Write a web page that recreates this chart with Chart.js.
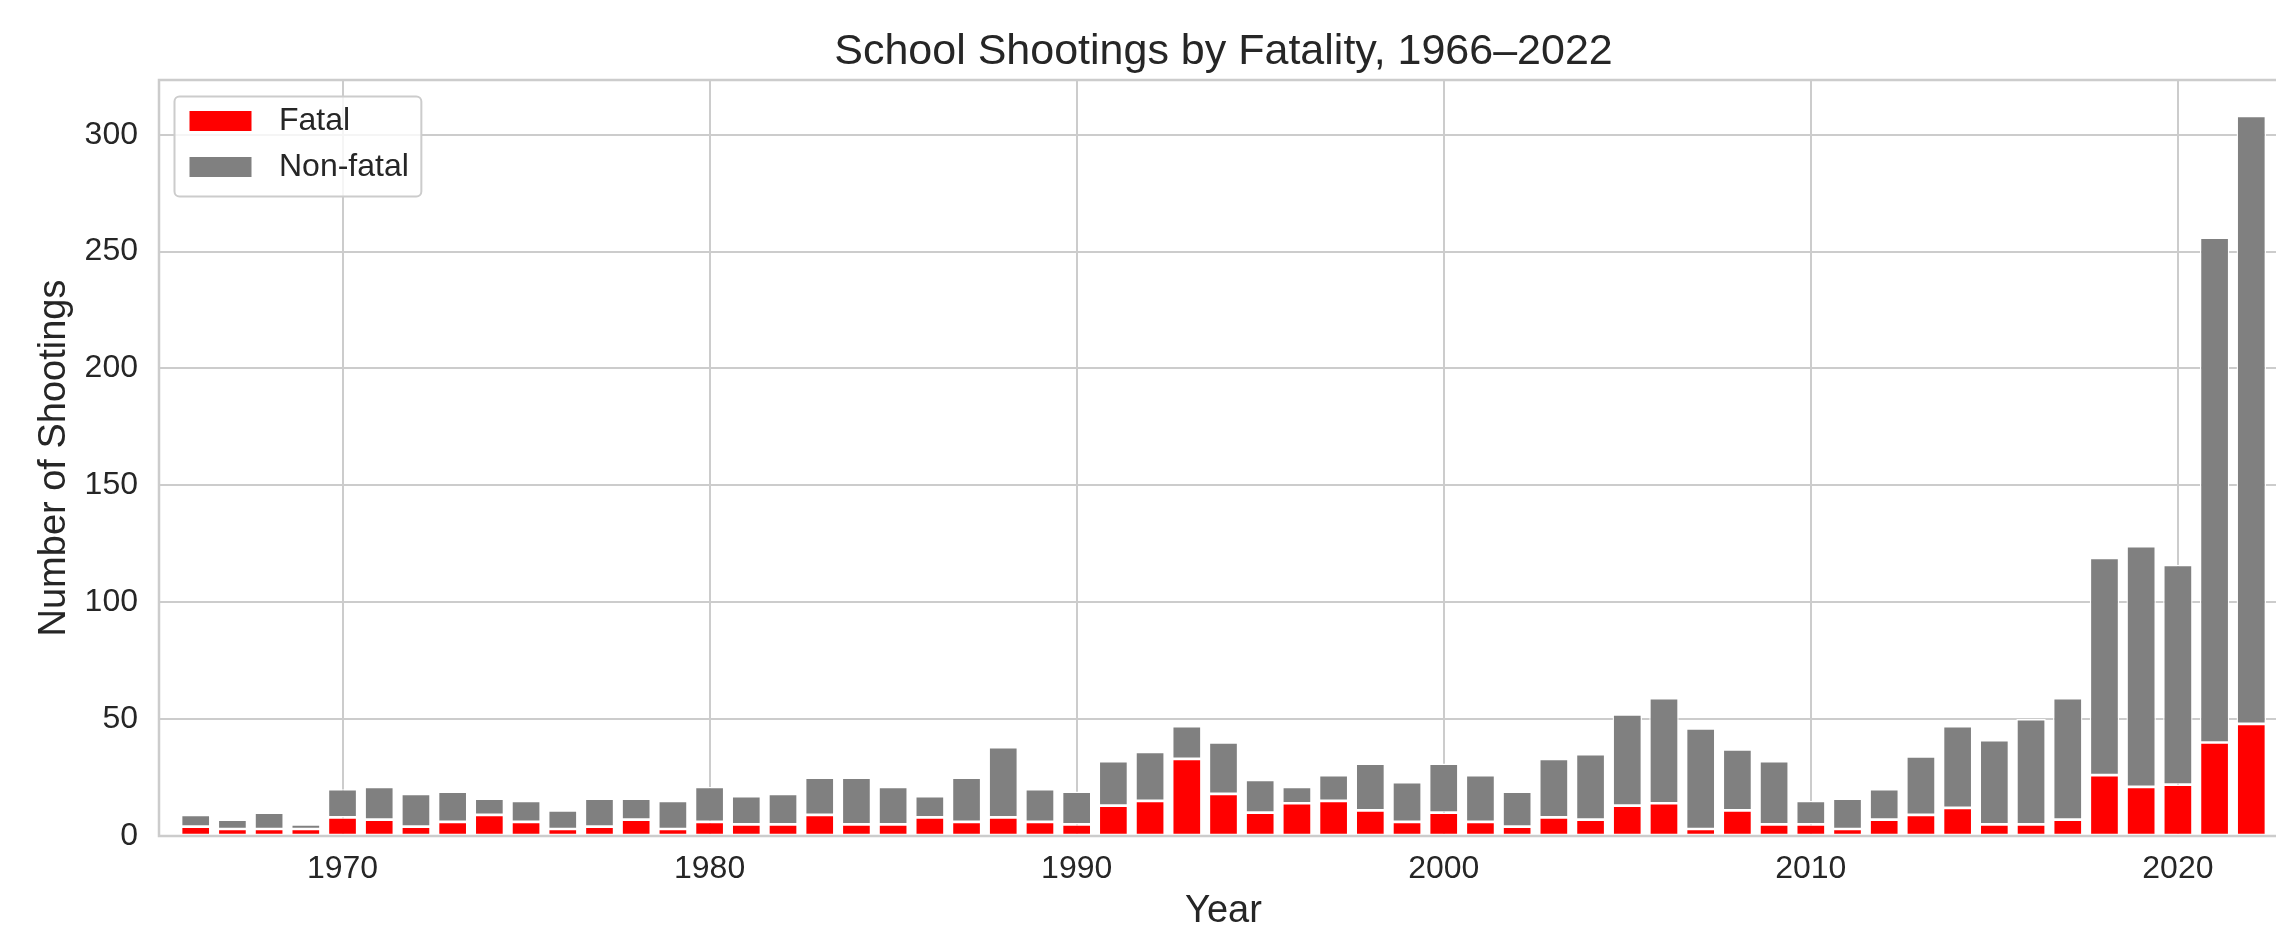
<!DOCTYPE html>
<html>
<head>
<meta charset="utf-8">
<script src="https://cdn.jsdelivr.net/npm/chart.js@4.4.1/dist/chart.umd.min.js"></script>
<style>
  html, body { margin: 0; padding: 0; background: #fff; overflow: hidden; }
  #wrap { width: 2300px; height: 933px; }
</style>
</head>
<body>
<div id="wrap"><canvas id="chart" width="2300" height="933"></canvas></div>
<script>
// --- data ---
const years = [
  1966, 1967, 1968, 1969, 1970, 1971, 1972, 1973, 1974, 1975,
  1976, 1977, 1978, 1979, 1980, 1981, 1982, 1983, 1984, 1985,
  1986, 1987, 1988, 1989, 1990, 1991, 1992, 1993, 1994, 1995,
  1996, 1997, 1998, 1999, 2000, 2001, 2002, 2003, 2004, 2005,
  2006, 2007, 2008, 2009, 2010, 2011, 2012, 2013, 2014, 2015,
  2016, 2017, 2018, 2019, 2020, 2021, 2022
];
const fatal = [
  4, 3, 3, 3, 8, 7, 4, 6, 9, 6,
  3, 4, 7, 3, 6, 5, 5, 9, 5, 5,
  8, 6, 8, 6, 5, 13, 15, 33, 18, 10,
  14, 15, 11, 6, 10, 6, 4, 8, 7, 13,
  14, 3, 11, 5, 5, 3, 7, 9, 12, 5,
  5, 7, 26, 21, 22, 40, 48
];
const nonFatal = [
  5, 4, 7, 2, 12, 14, 14, 13, 7, 9,
  8, 12, 9, 12, 15, 12, 13, 16, 20, 16,
  9, 19, 30, 14, 14, 19, 21, 14, 22, 14,
  7, 11, 20, 17, 21, 20, 15, 25, 28, 39,
  45, 43, 26, 27, 10, 13, 13, 25, 35, 36,
  45, 52, 93, 103, 94, 216, 260
];
const xTicks = [1970, 1980, 1990, 2000, 2010, 2020];
const yTicks = [0, 50, 100, 150, 200, 250, 300];

const FONT = '"Liberation Sans", Arial, sans-serif';
const INK = '#262626';
const GRID = '#cccccc';
Chart.defaults.font.family = FONT;

// title, axes frame and legend box drawn on top
const frame = {
  id: 'frame',
  afterDatasetsDraw(chart) {
    const { ctx, chartArea: a } = chart;
    ctx.save();
    ctx.strokeStyle = GRID;
    ctx.lineWidth = 2.5;
    ctx.strokeRect(a.left, a.top, a.right - a.left, a.bottom - a.top);
    ctx.restore();
  },
  afterDraw(chart) {
    const { ctx, chartArea: a } = chart;
    ctx.save();
    // title
    ctx.fillStyle = INK;
    ctx.font = '43px ' + FONT;
    ctx.textAlign = 'center';
    ctx.textBaseline = 'alphabetic';
    ctx.fillText('School Shootings by Fatality, 1966\u20132022', (a.left + a.right) / 2, 64);

    // legend
    ctx.font = '32px ' + FONT;
    const sets = chart.data.datasets;
    const tw = Math.max(...sets.map(d => ctx.measureText(d.label).width));
    const bx = a.left + 15.5, by = a.top + 16.5;
    const bw = 105 + tw + 12, bh = 100;
    ctx.beginPath();
    ctx.roundRect(bx, by, bw, bh, 5);
    ctx.fillStyle = 'rgba(255,255,255,0.8)';
    ctx.fill();
    ctx.strokeStyle = GRID;
    ctx.lineWidth = 2;
    ctx.stroke();
    sets.forEach((d, i) => {
      const cy = by + 24.5 + i * 46;
      ctx.fillStyle = d.backgroundColor;
      ctx.fillRect(bx + 15, cy - 10, 62, 20);
      ctx.fillStyle = INK;
      ctx.textAlign = 'left';
      ctx.textBaseline = 'middle';
      ctx.fillText(d.label, bx + 104.5, cy);
    });
    ctx.restore();
  }
};

const bar = (label, vals, color) => ({
  label,
  data: years.map((yr, i) => ({ x: yr, y: vals[i] })),
  backgroundColor: color,
  borderColor: '#ffffff',
  borderWidth: 1.35,
  borderSkipped: false,
  barPercentage: 0.8,
  categoryPercentage: 1
});

new Chart(document.getElementById('chart'), {
  type: 'bar',
  data: {
    datasets: [
      bar('Fatal', fatal, '#ff0000'),
      bar('Non-fatal', nonFatal, '#808080')
    ]
  },
  options: {
    responsive: false,
    animation: false,
    layout: { padding: { left: 0, right: 12, top: 80, bottom: 0 } },
    plugins: { legend: { display: false }, tooltip: { enabled: false } },
    scales: {
      x: {
        type: 'linear',
        min: 1965,
        max: 2023,
        stacked: true,
        offset: false,
        grid: { color: GRID, lineWidth: 2, drawTicks: false, offset: false },
        border: { display: false },
        ticks: { color: INK, font: { size: 32 }, padding: 14, maxRotation: 0, callback: v => String(v) },
        title: { display: true, text: 'Year', color: INK, font: { size: 38, lineHeight: 1.15 }, padding: { top: 0, bottom: 0 } },
        afterBuildTicks: s => { s.ticks = xTicks.map(v => ({ value: v })); },
        afterFit: s => { s.height = 97; }
      },
      y: {
        min: 0,
        max: 323.4,
        stacked: true,
        grid: { color: GRID, lineWidth: 2, drawTicks: false },
        border: { display: false },
        ticks: { color: INK, font: { size: 32 }, padding: 21, callback: v => String(v) },
        title: { display: true, text: 'Number of Shootings', color: INK, font: { size: 38, lineHeight: 1.15 }, padding: { top: 33, bottom: 0 } },
        afterBuildTicks: s => { s.ticks = yTicks.map(v => ({ value: v })); },
        afterFit: s => { s.width = 159; }
      }
    }
  },
  plugins: [frame]
});
</script>
</body>
</html>
